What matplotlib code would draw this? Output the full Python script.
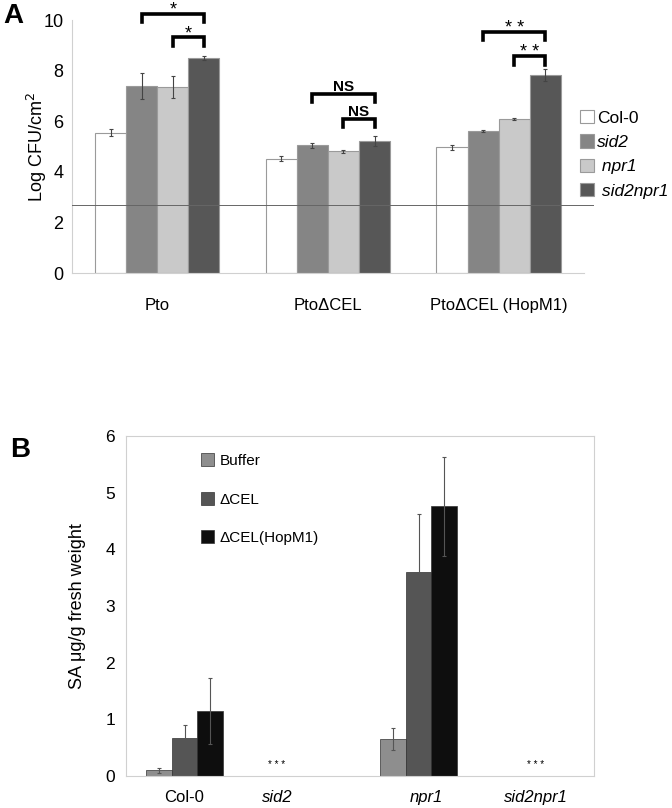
import matplotlib.pyplot as plt
import numpy as np

plt.rcParams['font.family'] = ['Liberation Sans', 'DejaVu Sans']

# Panel A: bacterial growth
strains = ['Pto', 'PtoΔCEL', 'PtoΔCEL (HopM1)']
genotypes_A = ['Col-0', 'sid2', 'npr1', 'sid2npr1']
legend_A = ['Col-0', 'sid2', ' npr1', ' sid2npr1']
cfu_mean = {
    'Col-0':    [5.55, 4.52, 4.97],
    'sid2':     [7.40, 5.05, 5.62],
    'npr1':     [7.36, 4.82, 6.10],
    'sid2npr1': [8.50, 5.24, 7.83],
}
cfu_err = {
    'Col-0':    [0.13, 0.10, 0.10],
    'sid2':     [0.50, 0.10, 0.04],
    'npr1':     [0.45, 0.06, 0.05],
    'sid2npr1': [0.08, 0.20, 0.25],
}
detect_limit = 2.7
# (strain index, from genotype, to genotype, bracket height, label)
brackets = [
    (0, 'sid2', 'sid2npr1', 10.25, '*'),
    (0, 'npr1', 'sid2npr1', 9.33, '*'),
    (1, 'sid2', 'sid2npr1', 7.10, 'NS'),
    (1, 'npr1', 'sid2npr1', 6.10, 'NS'),
    (2, 'sid2', 'sid2npr1', 9.55, '* *'),
    (2, 'npr1', 'sid2npr1', 8.57, '* *'),
]

# Panel B: SA levels
genotypes_B = ['Col-0', 'sid2', 'npr1', 'sid2npr1']
treatments = ['Buffer', 'ΔCEL', 'ΔCEL(HopM1)']
sa_mean = {
    'Buffer':      [0.10, 0.0, 0.65, 0.0],
    'ΔCEL':        [0.67, 0.0, 3.60, 0.0],
    'ΔCEL(HopM1)': [1.15, 0.0, 4.76, 0.0],
}
sa_err = {
    'Buffer':      [0.04, 0.0, 0.19, 0.0],
    'ΔCEL':        [0.23, 0.0, 1.02, 0.0],
    'ΔCEL(HopM1)': [0.58, 0.0, 0.87, 0.0],
}
not_detected = ['sid2', 'sid2npr1']

colors_A = {'Col-0': 'white', 'sid2': '#858585', 'npr1': '#c9c9c9', 'sid2npr1': '#575757'}
colors_B = {'Buffer': '#8e8e8e', 'ΔCEL': '#555555', 'ΔCEL(HopM1)': '#0e0e0e'}

fig = plt.figure(figsize=(6.72, 8.08), dpi=100)

# ---------------- Panel A ----------------
axA = fig.add_axes([0.107, 0.662, 0.762, 0.313])
x = np.arange(len(strains))
w = 0.182
for i, g in enumerate(genotypes_A):
    pos = x + (i - 1.5) * w
    axA.bar(pos, cfu_mean[g], w, color=colors_A[g], edgecolor='#9a9a9a', linewidth=0.8,
            label=g, zorder=2)
    axA.errorbar(pos, cfu_mean[g], yerr=cfu_err[g], fmt='none', ecolor='#444444',
                 elinewidth=0.8, capsize=1.5, capthick=0.8, zorder=3)

axA.axhline(detect_limit, xmin=0, xmax=1.018, color='#666666', lw=0.7, clip_on=False, zorder=4)

for s, g1, g2, h, lab in brackets:
    x1 = s + (genotypes_A.index(g1) - 1.5) * w
    x2 = s + (genotypes_A.index(g2) - 1.5) * w
    axA.plot([x1, x1, x2, x2], [h - 0.34, h, h, h - 0.34], color='black', lw=2.6,
             solid_joinstyle='miter', clip_on=False, zorder=5)
    if lab == 'NS':
        axA.text((x1 + x2) / 2, h - 0.02, lab, ha='center', va='bottom', fontsize=11,
                 fontweight='bold')
    else:
        axA.text((x1 + x2) / 2, h - 0.2, lab, ha='center', va='bottom', fontsize=13)

axA.set_xlim(-0.5, 2.5)
axA.set_ylim(0, 10)
axA.set_yticks(np.arange(0, 11, 2))
axA.set_xticks(x)
axA.set_xticklabels(strains, fontsize=12)
axA.tick_params(axis='x', length=0, pad=18)
axA.tick_params(axis='y', length=0, labelsize=13, pad=6)
axA.set_ylabel('Log CFU/cm$^2$', fontsize=13, labelpad=-4)
for sp in ['top', 'right']:
    axA.spines[sp].set_visible(False)
axA.spines['left'].set_color('#d0d0d0')
axA.spines['bottom'].set_color('#d0d0d0')

handles, _ = axA.get_legend_handles_labels()
legA = axA.legend(handles, legend_A, loc='center left', bbox_to_anchor=(0.992, 0.47),
                  frameon=False, fontsize=12.5, borderpad=0, borderaxespad=0,
                  handlelength=0.8, handleheight=0.8, handletextpad=0.2, labelspacing=0.5)
for t in legA.get_texts()[1:]:
    t.set_fontstyle('italic')
fig.text(0.02, 0.98, 'A', fontsize=20, fontweight='bold', va='center', ha='center')

# ---------------- Panel B ----------------
axB = fig.add_axes([0.1875, 0.0396, 0.6965, 0.4208])
xb = np.arange(len(genotypes_B))
wb = 0.22
for i, t in enumerate(treatments):
    pos = xb + (i - 1) * wb
    axB.bar(pos, sa_mean[t], wb, color=colors_B[t], edgecolor='#333333', linewidth=0.5,
            label=t, zorder=2)
    axB.errorbar(pos[[0, 2]], np.array(sa_mean[t])[[0, 2]], yerr=np.array(sa_err[t])[[0, 2]],
                 fmt='none', ecolor='#555555', elinewidth=0.8, capsize=1.5, capthick=0.8, zorder=3)

label_shift = [0, -0.21, 0.07, 0]
for g in not_detected:
    k = genotypes_B.index(g)
    axB.text(k + label_shift[k], 0.2, '* * *', ha='center', va='center', fontsize=7)

axB.set_xlim(-0.5, 3.5)
axB.set_ylim(0, 6)
axB.set_xticks(xb + np.array(label_shift))
axB.set_xticklabels(genotypes_B, fontsize=12)
for t in axB.get_xticklabels()[1:]:
    t.set_fontstyle('italic')
axB.tick_params(axis='x', length=0, pad=10)
axB.tick_params(axis='y', length=0, labelsize=12.5, pad=8)
axB.set_ylabel('SA μg/g fresh weight', fontsize=13, labelpad=14)
for sp in axB.spines.values():
    sp.set_color('#d0d0d0')
axB.legend(loc='upper left', bbox_to_anchor=(0.13, 0.99), frameon=False, fontsize=11,
           handlelength=0.85, handleheight=0.95, handletextpad=0.4, labelspacing=1.55)
fig.text(0.03, 0.443, 'B', fontsize=20, fontweight='bold', va='center', ha='center')

fig.savefig('out.png', dpi=100)
